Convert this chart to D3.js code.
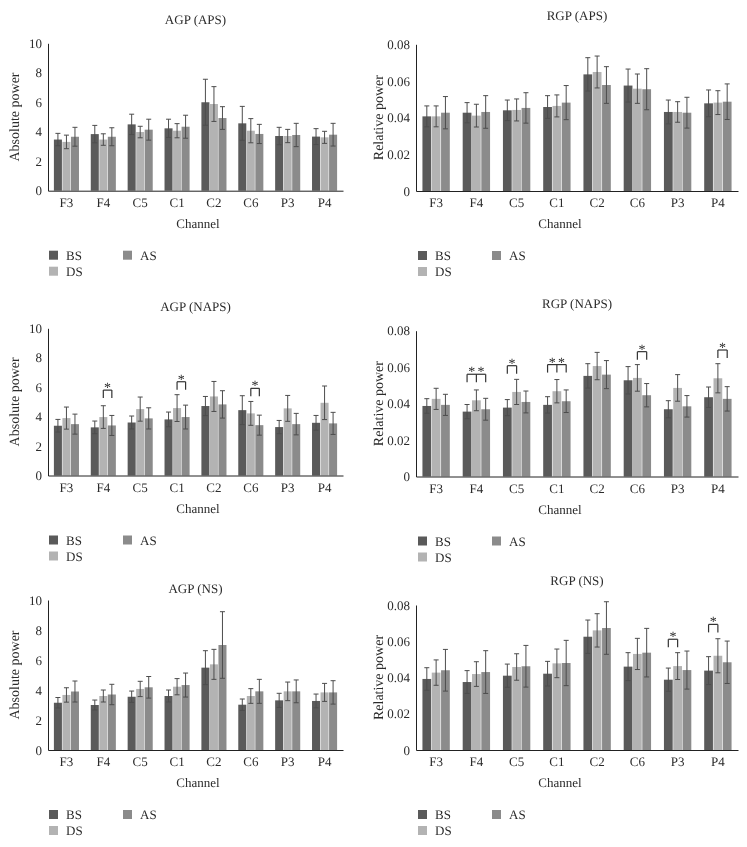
<!DOCTYPE html>
<html><head><meta charset="utf-8">
<script src="https://cdn.jsdelivr.net/npm/d3@7"></script>
<style>
body{margin:0;background:#fff}
svg{display:block;will-change:transform}
text{font-family:"Liberation Serif","Times New Roman","DejaVu Serif",serif;fill:#2b2b2b;text-rendering:geometricPrecision}
</style>
</head><body>
<svg id="c" width="747" height="847"></svg>
<script>
// ---------- data ----------
const categories = ["F3","F4","C5","C1","C2","C6","P3","P4"];
const seriesNames = ["BS","DS","AS"];
const agTicks = [0,2,4,6,8,10];
const rgTicks = [0,0.02,0.04,0.06,0.08];

// AGP (APS)
const agpApsBS = [3.47,3.84,4.50,4.23,6.00,4.57,3.71,3.67];
const agpApsDS = [3.31,3.47,3.98,4.07,5.88,4.07,3.71,3.62];
const agpApsAS = [3.66,3.66,4.14,4.34,4.93,3.85,3.78,3.80];
const agpApsErrBS = [0.42,0.59,0.69,0.62,1.56,1.15,0.59,0.54];
const agpApsErrDS = [0.46,0.39,0.39,0.48,1.18,0.82,0.45,0.41];
const agpApsErrAS = [0.64,0.61,0.71,0.78,0.77,0.65,0.79,0.77];

// RGP (APS)
const rgpApsBS = [0.0407,0.0427,0.0440,0.0458,0.0636,0.0575,0.0431,0.0478];
const rgpApsDS = [0.0407,0.0411,0.0442,0.0464,0.0649,0.0558,0.0431,0.0482];
const rgpApsAS = [0.0427,0.0431,0.0453,0.0482,0.0578,0.0555,0.0427,0.0487];
const rgpApsErrBS = [0.0057,0.0055,0.0056,0.0062,0.0091,0.0090,0.0065,0.0073];
const rgpApsErrDS = [0.0057,0.0062,0.0060,0.0060,0.0087,0.0080,0.0056,0.0065];
const rgpApsErrAS = [0.0088,0.0089,0.0083,0.0093,0.0100,0.0112,0.0084,0.0097];

// AGP (NAPS)
const agpNapsBS = [3.38,3.27,3.60,3.81,4.72,4.44,3.29,3.58];
const agpNapsDS = [3.90,3.97,4.51,4.58,5.37,4.22,4.56,4.94];
const agpNapsAS = [3.49,3.40,3.88,3.97,4.83,3.42,3.49,3.54];
const agpNapsErrBS = [0.43,0.43,0.44,0.50,0.65,0.98,0.45,0.50];
const agpNapsErrDS = [0.75,0.77,0.82,0.91,1.02,0.81,0.88,1.14];
const agpNapsErrAS = [0.68,0.68,0.72,0.81,0.93,0.68,0.73,0.75];
const agpNapsSig = [
  {cat:"F4", from:"DS", to:"AS", level:5.8, stars:1},
  {cat:"C1", from:"DS", to:"AS", level:6.37, stars:1},
  {cat:"C6", from:"DS", to:"AS", level:5.92, stars:1}
];

// RGP (NAPS)
const rgpNapsBS = [0.0387,0.0356,0.0378,0.0393,0.0552,0.0528,0.0369,0.0435];
const rgpNapsDS = [0.0426,0.0418,0.0464,0.0468,0.0606,0.0541,0.0486,0.0539];
const rgpNapsAS = [0.0393,0.0369,0.0409,0.0413,0.0559,0.0446,0.0385,0.0426];
const rgpNapsErrBS = [0.0040,0.0039,0.0044,0.0045,0.0067,0.0075,0.0047,0.0056];
const rgpNapsErrDS = [0.0058,0.0057,0.0069,0.0064,0.0075,0.0073,0.0073,0.0080];
const rgpNapsErrAS = [0.0058,0.0060,0.0060,0.0062,0.0077,0.0064,0.0059,0.0067];
const rgpNapsSig = [
  {cat:"F4", from:"BS", to:"AS", level:0.0561, stars:2},
  {cat:"C5", from:"BS", to:"DS", level:0.0608, stars:1},
  {cat:"C1", from:"BS", to:"AS", level:0.0614, stars:2},
  {cat:"C6", from:"DS", to:"AS", level:0.0685, stars:1},
  {cat:"P4", from:"DS", to:"AS", level:0.0694, stars:1}
];

// AGP (NS)
const agpNsBS = [3.15,3.00,3.55,3.60,5.49,3.02,3.31,3.27];
const agpNsDS = [3.67,3.60,4.07,4.22,5.71,3.60,3.91,3.84];
const agpNsAS = [3.90,3.70,4.18,4.33,7.00,3.91,3.91,3.84];
const agpNsErrBS = [0.35,0.33,0.38,0.40,1.13,0.38,0.47,0.46];
const agpNsErrDS = [0.48,0.40,0.51,0.54,1.00,0.49,0.62,0.60];
const agpNsErrAS = [0.70,0.68,0.72,0.80,2.22,0.80,0.76,0.78];

// RGP (NS)
const rgpNsBS = [0.0392,0.0375,0.0410,0.0421,0.0625,0.0460,0.0388,0.0438];
const rgpNsDS = [0.0427,0.0419,0.0458,0.0478,0.0660,0.0530,0.0463,0.0520];
const rgpNsAS = [0.0440,0.0430,0.0462,0.0480,0.0673,0.0537,0.0441,0.0484];
const rgpNsErrBS = [0.0062,0.0063,0.0064,0.0068,0.0092,0.0077,0.0064,0.0077];
const rgpNsErrDS = [0.0070,0.0068,0.0073,0.0079,0.0092,0.0086,0.0074,0.0094];
const rgpNsErrAS = [0.0115,0.0118,0.0115,0.0125,0.0145,0.0134,0.0105,0.0117];
const rgpNsSig = [
  {cat:"P3", from:"BS", to:"DS", level:0.0611, stars:1},
  {cat:"P4", from:"BS", to:"DS", level:0.0693, stars:1}
];

const panels = [
  {title:"AGP (APS)", yLabel:"Absolute power", yMax:10, ticks:agTicks,
   mean:[agpApsBS,agpApsDS,agpApsAS], err:[agpApsErrBS,agpApsErrDS,agpApsErrAS], sig:[]},
  {title:"RGP (APS)", yLabel:"Relative power", yMax:0.08, ticks:rgTicks,
   mean:[rgpApsBS,rgpApsDS,rgpApsAS], err:[rgpApsErrBS,rgpApsErrDS,rgpApsErrAS], sig:[]},
  {title:"AGP (NAPS)", yLabel:"Absolute power", yMax:10, ticks:agTicks,
   mean:[agpNapsBS,agpNapsDS,agpNapsAS], err:[agpNapsErrBS,agpNapsErrDS,agpNapsErrAS], sig:agpNapsSig},
  {title:"RGP (NAPS)", yLabel:"Relative power", yMax:0.08, ticks:rgTicks,
   mean:[rgpNapsBS,rgpNapsDS,rgpNapsAS], err:[rgpNapsErrBS,rgpNapsErrDS,rgpNapsErrAS], sig:rgpNapsSig},
  {title:"AGP (NS)", yLabel:"Absolute power", yMax:10, ticks:agTicks,
   mean:[agpNsBS,agpNsDS,agpNsAS], err:[agpNsErrBS,agpNsErrDS,agpNsErrAS], sig:[]},
  {title:"RGP (NS)", yLabel:"Relative power", yMax:0.08, ticks:rgTicks,
   mean:[rgpNsBS,rgpNsDS,rgpNsAS], err:[rgpNsErrBS,rgpNsErrDS,rgpNsErrAS], sig:rgpNsSig}
];

// ---------- layout & style ----------
const layout = [
  {x0:48,  x1:343, yTop:43.3,  yBot:190.7, titleY:23.5,  ylabelX:15,  channelX:198, legendX:49},
  {x0:416, x1:738, yTop:44.3,  yBot:191,   titleY:19.5,  ylabelX:379, channelX:560, legendX:418},
  {x0:48,  x1:343, yTop:328.3, yBot:475.5, titleY:311,   ylabelX:15,  channelX:198, legendX:49},
  {x0:416, x1:738, yTop:330.7, yBot:476.5, titleY:307.5, ylabelX:379, channelX:560, legendX:418},
  {x0:48,  x1:343, yTop:600,   yBot:750,   titleY:592.5, ylabelX:15,  channelX:198, legendX:49},
  {x0:416, x1:738, yTop:605,   yBot:750,   titleY:584.5, ylabelX:379, channelX:560, legendX:418}
];
const colors = {BS:"#5a5a5a", DS:"#b3b3b3", AS:"#8b8b8b"};
const legendPos = {BS:[0,0], AS:[74,0], DS:[0,16]};

const svg = d3.select("#c");

panels.forEach((p, i) => {
  const L = layout[i];
  const g = svg.append("g");
  const x = d3.scaleBand().domain(categories).range([L.x0, L.x1])
      .paddingInner(0.32).paddingOuter(0.16);
  const xs = d3.scaleBand().domain(seriesNames).range([0, x.bandwidth()]).paddingInner(0.06);
  const y = d3.scaleLinear().domain([0, p.yMax]).range([L.yBot, L.yTop]);

  // bars
  const rows = [];
  categories.forEach((c, ci) => seriesNames.forEach((s, si) => {
    rows.push({c, s, v:p.mean[si][ci], e:p.err[si][ci]});
  }));
  g.selectAll("rect.bar").data(rows).enter().append("rect")
    .attr("x", d => x(d.c) + xs(d.s))
    .attr("width", xs.bandwidth())
    .attr("y", d => y(d.v))
    .attr("height", d => y(0) - y(d.v))
    .attr("fill", d => colors[d.s]);

  // error bars
  const eg = g.selectAll("g.err").data(rows).enter().append("g")
    .attr("stroke", "#4d4d4d").attr("stroke-width", 1);
  const cx = d => x(d.c) + xs(d.s) + xs.bandwidth()/2;
  eg.append("line").attr("x1", cx).attr("x2", cx)
    .attr("y1", d => y(d.v + d.e)).attr("y2", d => y(d.v - d.e));
  eg.append("line").attr("x1", d => cx(d) - 2.5).attr("x2", d => cx(d) + 2.5)
    .attr("y1", d => y(d.v + d.e)).attr("y2", d => y(d.v + d.e));
  eg.append("line").attr("x1", d => cx(d) - 2.5).attr("x2", d => cx(d) + 2.5)
    .attr("y1", d => y(d.v - d.e)).attr("y2", d => y(d.v - d.e));

  // axes
  const fmt = p.yMax < 1 ? (v => v === 0 ? "0" : d3.format(".2f")(v)) : d3.format("d");
  const ya = g.append("g").attr("transform", `translate(${L.x0},0)`)
    .call(d3.axisLeft(y).tickValues(p.ticks).tickFormat(fmt).tickSize(0).tickPadding(6));
  ya.select(".domain").attr("stroke", "#222");
  ya.selectAll("text").attr("font-size", 13).attr("font-family", null).attr("fill", null);

  const xa = g.append("g").attr("transform", `translate(0,${L.yBot})`)
    .call(d3.axisBottom(x).tickSize(0).tickPadding(7));
  xa.select(".domain").attr("stroke", "#222");
  xa.selectAll("text").attr("font-size", 13).attr("font-family", null).attr("fill", null);

  // title
  g.append("text").attr("x", (L.x0 + L.x1)/2).attr("y", L.titleY)
    .attr("text-anchor", "middle").attr("font-size", 13).text(p.title);
  // y label
  g.append("text").attr("transform", `translate(${L.ylabelX},${(L.yTop + L.yBot)/2}) rotate(-90)`)
    .attr("text-anchor", "middle").attr("dominant-baseline", "central")
    .attr("font-size", 14).text(p.yLabel);
  // x label
  g.append("text").attr("x", L.channelX).attr("y", L.yBot + 37)
    .attr("text-anchor", "middle").attr("font-size", 13).text("Channel");

  // significance brackets
  p.sig.forEach(sg => {
    const bx = s => x(sg.cat) + xs(s) + xs.bandwidth()/2;
    const by = y(sg.level);
    const fromI = seriesNames.indexOf(sg.from), toI = seriesNames.indexOf(sg.to);
    const legs = seriesNames.slice(fromI, toI + 1);
    const bg = g.append("g").attr("stroke", "#333").attr("stroke-width", 1.2).attr("fill", "none");
    bg.append("line").attr("x1", bx(sg.from)).attr("x2", bx(sg.to)).attr("y1", by).attr("y2", by);
    legs.forEach(s => bg.append("line").attr("x1", bx(s)).attr("x2", bx(s)).attr("y1", by).attr("y2", by + 8));
    for (let k = 0; k < legs.length - 1; k++) {
      const mx = (bx(legs[k]) + bx(legs[k+1]))/2;
      g.append("text").attr("x", mx).attr("y", by + 2).attr("text-anchor", "middle")
        .attr("font-size", 14).style("fill", "#2b2b2b").text("*");
    }
  });

  // legend
  seriesNames.forEach(s => {
    const [dx, dy] = legendPos[s];
    const lx = L.legendX + dx, ly = L.yBot + 60 + dy;
    g.append("rect").attr("x", lx).attr("y", ly).attr("width", 9).attr("height", 9).attr("fill", colors[s]);
    g.append("text").attr("x", lx + 17).attr("y", ly + 9).attr("font-size", 13).text(s);
  });
});
</script>
</body></html>
